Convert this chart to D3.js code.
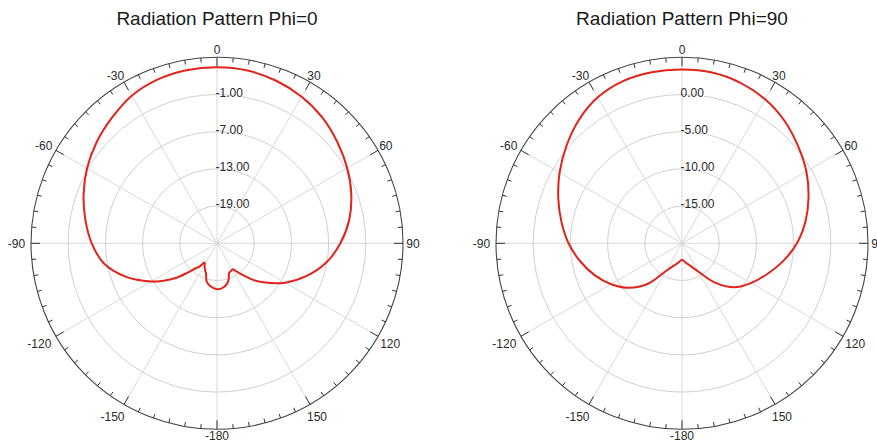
<!DOCTYPE html>
<html>
<head>
<meta charset="utf-8">
<script src="https://cdn.jsdelivr.net/npm/d3@7"></script>
<style>
  html, body { margin: 0; padding: 0; background: #fff; }
  svg { display: block; }
  text { font-family: "Liberation Sans", Arial, sans-serif; }
</style>
</head>
<body>
<svg id="chart" width="877" height="444"></svg>
<script>
// ---- Data (gain in dB vs theta in degrees) ----
const titles = ["Radiation Pattern Phi=0", "Radiation Pattern Phi=90"];

const phi0Angles = [-180,-170,-165,-160,-155,-150,-147,-143,-140,-135,-130,-125,-120,-110,-100,-90,-80,-70,-60,-50,-40,-30,-20,-10,0,10,20,30,40,50,60,70,80,90,100,110,120,130,135,140,145,149,153,158,162,166,172];
const phi0Gain   = [-17.6,-18.1,-18.6,-19.8,-20.4,-21.0,-21.3,-20.3,-19.8,-18.3,-16.3,-14.5,-12.7,-9.3,-6.45,-4.8,-3.45,-2.1,-0.8,0.35,1.4,2.5,3.1,3.35,3.4,3.3,2.9,2.3,1.45,0.35,-0.75,-1.95,-3.35,-5.1,-7.1,-9.6,-12.3,-15.2,-16.6,-18.2,-19.4,-20.1,-20.0,-19.8,-18.9,-18.3,-17.8];

const phi90Angles = [-180,-170,-160,-150,-140,-130,-120,-110,-100,-90,-80,-70,-60,-50,-40,-30,-20,-10,0,10,20,30,40,50,60,70,80,90,100,110,120,130,140,150,160,170];
const phi90Gain   = [-17.8,-17.4,-16.8,-15.7,-12.9,-10.7,-9.0,-7.5,-6.1,-4.75,-3.55,-2.3,-1.0,0.3,1.6,2.65,3.2,3.35,3.35,3.3,2.95,2.35,1.45,0.35,-0.7,-1.9,-3.15,-4.55,-6.2,-7.85,-9.3,-10.8,-13.1,-15.6,-16.8,-17.4];

const phi0Domain  = [-25, 5];
const phi0Rings   = [-19, -13, -7, -1];
const phi90Domain = [-20, 5];
const phi90Rings  = [-15, -10, -5, 0];

const angleLabels = [0, 30, 60, 90, 120, 150, -180, -150, -120, -90, -60, -30];

// ---- Drawing ----
const svg = d3.select("#chart");
const R = 186;
const rad = d => d * Math.PI / 180;

function labelRadius(d) {
  const a = Math.abs(d);
  if (a <= 30) return 194;
  if (a === 60) return 195;
  if (a === 90) return 196;
  if (a === 180) return 192.5;
  return 200;
}

function polarChart(cx, cy, title, angles, gains, domain, rings) {
  const g = svg.append("g").attr("transform", `translate(${cx},${cy})`);
  const r = d3.scaleLinear().domain(domain).range([0, R]);

  // title
  svg.append("text")
    .attr("x", cx).attr("y", 25)
    .attr("text-anchor", "middle")
    .attr("font-size", 19)
    .attr("fill", "#1a1a1a")
    .text(title);

  // rings
  g.selectAll("circle.ring").data(rings).join("circle")
    .attr("class", "ring")
    .attr("r", d => r(d))
    .attr("fill", "none")
    .attr("stroke", "#d0d0d0")
    .attr("stroke-width", 1);

  // spokes every 30 deg
  const spokes = d3.range(0, 360, 30);
  g.selectAll("line.spoke").data(spokes).join("line")
    .attr("class", "spoke")
    .attr("x1", 0).attr("y1", 0)
    .attr("x2", d => R * Math.sin(rad(d)))
    .attr("y2", d => -R * Math.cos(rad(d)))
    .attr("stroke", "#d8d8d8")
    .attr("stroke-width", 1);

  // outer circle
  g.append("circle").attr("r", R)
    .attr("fill", "none").attr("stroke", "#444").attr("stroke-width", 1.1);

  // ticks every 5 deg, major every 30
  const ticks = d3.range(0, 360, 5);
  g.selectAll("line.tick").data(ticks).join("line")
    .attr("class", "tick")
    .attr("x1", d => R * Math.sin(rad(d)))
    .attr("y1", d => -R * Math.cos(rad(d)))
    .attr("x2", d => (R - (d % 30 === 0 ? 9 : 4.5)) * Math.sin(rad(d)))
    .attr("y2", d => -(R - (d % 30 === 0 ? 9 : 4.5)) * Math.cos(rad(d)))
    .attr("stroke", "#333")
    .attr("stroke-width", 1);

  // angle labels
  g.selectAll("text.alab").data(angleLabels).join("text")
    .attr("class", "alab")
    .attr("x", d => labelRadius(d) * Math.sin(rad(d)) + (d < 0 && d !== -180 ? -4.5 : 0))
    .attr("y", d => -labelRadius(d) * Math.cos(rad(d)))
    .attr("dy", "0.36em")
    .attr("text-anchor", "middle")
    .attr("font-size", 12)
    .attr("fill", "#2a2a2a")
    .text(d => d);

  // ring labels
  g.selectAll("text.rlab").data(rings).join("text")
    .attr("class", "rlab")
    .attr("x", -1.5)
    .attr("y", d => -r(d) + 2)
    .attr("text-anchor", "start")
    .attr("font-size", 12)
    .attr("fill", "#2a2a2a")
    .text(d => d.toFixed(2));

  // pattern curve
  const pts = angles.map((a, i) => [rad(a), r(gains[i])]);
  const line = d3.lineRadial()
    .angle(d => d[0])
    .radius(d => d[1])
    .curve(d3.curveCatmullRomClosed.alpha(0.5));
  g.append("path")
    .attr("d", line(pts))
    .attr("fill", "none")
    .attr("stroke", "#e2231a")
    .attr("stroke-width", 2)
    .attr("stroke-linejoin", "round");
}

polarChart(217, 243.3, titles[0], phi0Angles, phi0Gain, phi0Domain, phi0Rings);
polarChart(682, 243.3, titles[1], phi90Angles, phi90Gain, phi90Domain, phi90Rings);
</script>
</body>
</html>
